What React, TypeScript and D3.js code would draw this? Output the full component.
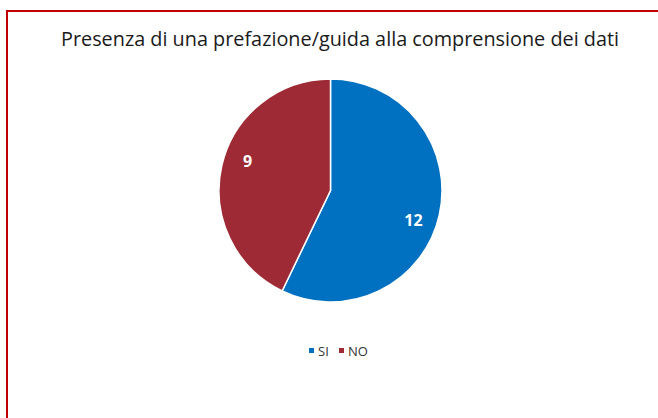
import { useEffect, useRef } from 'react';
import * as d3 from 'd3';

const categories = ['SI', 'NO'];
const values = [12, 9];
const colors = ['#0070C0', '#9E2A36'];
const title = 'Presenza di una prefazione/guida alla comprensione dei dati';

const W = 658;
const H = 418;

export default function App() {
  const ref = useRef<SVGSVGElement | null>(null);

  useEffect(() => {
    if (!ref.current) return;
    const svg = d3.select(ref.current);
    svg.selectAll('*').remove();

    svg.append('rect').attr('width', W).attr('height', H).attr('fill', '#fff');

    // red frame, runs off the right and bottom edges
    svg
      .append('rect')
      .attr('x', 7)
      .attr('y', 11)
      .attr('width', W + 20)
      .attr('height', H + 20)
      .attr('fill', 'none')
      .attr('stroke', '#C00000')
      .attr('stroke-width', 2);

    svg
      .append('text')
      .attr('x', 340)
      .attr('y', 46)
      .attr('text-anchor', 'middle')
      .attr('font-family', 'Open Sans, sans-serif')
      .attr('font-size', 20)
      .attr('fill', '#1a1a1a')
      .attr('textLength', 558)
      .attr('lengthAdjust', 'spacingAndGlyphs')
      .text(title);

    const cx = 330.5;
    const cy = 190.5;
    const r = 111.5;

    type Row = { c: string; v: number; color: string };
    const data: Row[] = categories.map((c, i) => ({ c, v: values[i], color: colors[i] }));
    const pie = d3.pie<Row>().sort(null).value((d) => d.v);
    const arcs = pie(data);
    const arc = d3.arc<d3.PieArcDatum<Row>>().innerRadius(0).outerRadius(r);
    const labelArc = d3
      .arc<d3.PieArcDatum<Row>>()
      .innerRadius(r * 0.79)
      .outerRadius(r * 0.79);

    const g = svg.append('g').attr('transform', `translate(${cx},${cy})`);
    g.selectAll('path')
      .data(arcs)
      .enter()
      .append('path')
      .attr('d', arc)
      .attr('fill', (d) => d.data.color)
      .attr('stroke', '#fff')
      .attr('stroke-width', 1.5);

    g.selectAll('text')
      .data(arcs)
      .enter()
      .append('text')
      .attr('transform', (d) => {
        // Excel nudges labels slightly clockwise
        const shifted = { ...d, startAngle: d.startAngle + 0.12, endAngle: d.endAngle + 0.12 };
        const [x, y] = labelArc.centroid(shifted);
        return `translate(${x},${y})`;
      })
      .attr('text-anchor', 'middle')
      .attr('dy', '0.36em')
      .attr('font-family', 'Open Sans, sans-serif')
      .attr('font-weight', 'bold')
      .attr('font-size', 16)
      .attr('fill', '#fff')
      .text((d) => String(d.data.v));

    // legend
    const legend = svg.append('g').attr('transform', 'translate(309,351)');
    const offsets = [0, 30];
    data.forEach((d, i) => {
      const lg = legend.append('g').attr('transform', `translate(${offsets[i]},0)`);
      lg.append('rect').attr('x', 0).attr('y', -3).attr('width', 5).attr('height', 5).attr('fill', d.color);
      lg.append('text')
        .attr('x', 9)
        .attr('y', 0)
        .attr('dy', '0.36em')
        .attr('font-family', 'Open Sans, sans-serif')
        .attr('font-size', 13)
        .attr('fill', '#333')
        .text(d.c);
    });
  }, []);

  return (
    <svg
      ref={ref}
      width={W}
      height={H}
      style={{ position: 'absolute', left: 0, top: 0, display: 'block' }}
    />
  );
}
